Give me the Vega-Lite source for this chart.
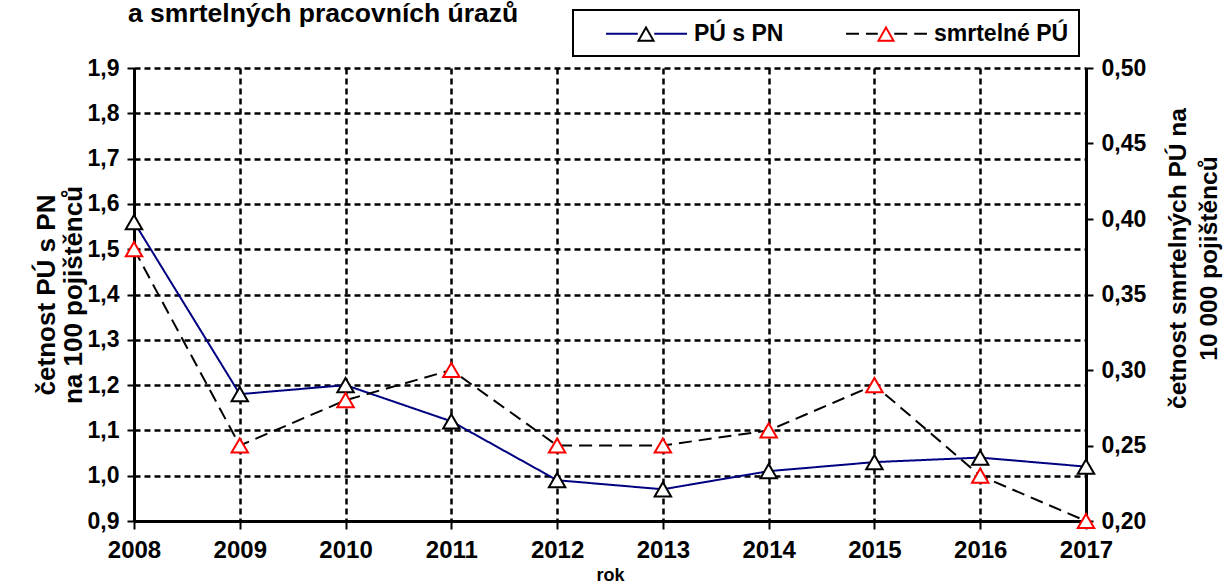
{
  "$schema": "https://vega.github.io/schema/vega-lite/v6.json",
  "width": 952,
  "height": 453,
  "autosize": "none",
  "padding": {"left": 134, "top": 68, "right": 138, "bottom": 65},
  "background": "white",
  "config": {
    "font": "Liberation Sans",
    "view": {"stroke": null},
    "axis": {
      "labelFont": "Liberation Sans",
      "titleFont": "Liberation Sans",
      "labelFontWeight": "bold",
      "titleFontWeight": "bold",
      "labelColor": "black",
      "titleColor": "black",
      "domainColor": "black",
      "tickColor": "black",
      "gridColor": "black",
      "gridOpacity": 1
    },
    "legend": {"labelFont": "Liberation Sans"}
  },
  "title": {
    "text": "a smrtelných pracovních úrazů",
    "anchor": "start",
    "frame": "group",
    "fontSize": 26.5,
    "fontWeight": "bold",
    "color": "black",
    "baseline": "alphabetic",
    "offset": 0,
    "dy": 39,
    "dx": -6
  },
  "data": {
    "values": [
      {"rok": 2008, "PÚ s PN": 1.56, "smrtelné PÚ": 0.38},
      {"rok": 2009, "PÚ s PN": 1.18, "smrtelné PÚ": 0.25},
      {"rok": 2010, "PÚ s PN": 1.20, "smrtelné PÚ": 0.28},
      {"rok": 2011, "PÚ s PN": 1.12, "smrtelné PÚ": 0.30},
      {"rok": 2012, "PÚ s PN": 0.99, "smrtelné PÚ": 0.25},
      {"rok": 2013, "PÚ s PN": 0.97, "smrtelné PÚ": 0.25},
      {"rok": 2014, "PÚ s PN": 1.01, "smrtelné PÚ": 0.26},
      {"rok": 2015, "PÚ s PN": 1.03, "smrtelné PÚ": 0.29},
      {"rok": 2016, "PÚ s PN": 1.04, "smrtelné PÚ": 0.23},
      {"rok": 2017, "PÚ s PN": 1.02, "smrtelné PÚ": 0.20}
    ]
  },
  "layer": [
    {
      "layer": [
        {
          "transform": [{"fold": ["PÚ s PN"], "as": ["serie", "hodnota"]}],
          "mark": {"type": "line", "strokeWidth": 2},
          "encoding": {
            "x": {
              "field": "rok", "type": "quantitative",
              "scale": {"domain": [2008, 2017], "nice": false, "zero": false},
              "axis": {
                "values": [2008, 2009, 2010, 2011, 2012, 2013, 2014, 2015, 2016, 2017],
                "format": "d", "title": "rok", "titleFontSize": 18, "labelFontSize": 24,
                "domainWidth": 3, "tickSize": 8, "tickWidth": 2, "labelPadding": 9,
                "titlePadding": 4, "grid": true, "gridDash": [6, 4], "gridWidth": 2.5,
                "labelFlush": false, "labelOverlap": false
              }
            },
            "y": {
              "field": "hodnota", "type": "quantitative",
              "scale": {"domain": [0.9, 1.9], "nice": false, "zero": false},
              "axis": {
                "orient": "left",
                "values": [0.9, 1.0, 1.1, 1.2, 1.3, 1.4, 1.5, 1.6, 1.7, 1.8, 1.9],
                "labelExpr": "replace(format(datum.value, '.1f'), '.', ',')",
                "title": ["četnost PÚ s PN", "na 100 pojištěnců"],
                "titleFontSize": 26, "titleLineHeight": 27, "labelFontSize": 23, "domainWidth": 3,
                "tickSize": 7, "tickWidth": 2, "labelPadding": 8, "titlePadding": 1,
                "grid": true, "gridDash": [6, 4], "gridWidth": 2.5,
                "labelFlush": false, "labelOverlap": false
              }
            },
            "stroke": {
              "field": "serie", "type": "nominal",
              "scale": {"range": ["#000080", "black"]},
              "legend": {
                "title": null, "orient": "none", "legendX": 439, "legendY": -58,
                "direction": "horizontal",
                "symbolType": "M0.76,0H3.3M4.62,0H7.24",
                "symbolSize": 625, "symbolStrokeWidth": 2,
                "labelOffset": 84, "columnPadding": 39, "padding": 10,
                "strokeColor": "black", "fillColor": "white",
                "labelFontSize": 23, "labelFontWeight": "bold", "labelColor": "black",
                "encode": {"legend": {"update": {"strokeWidth": {"value": 2}}}}
              }
            },
            "strokeDash": {
              "field": "serie", "type": "nominal",
              "scale": {"range": [[1, 0], [13, 7]]},
              "legend": {
                "title": null, "orient": "none", "legendX": 439, "legendY": -58,
                "direction": "horizontal",
                "symbolType": "M0.76,0H3.3M4.62,0H7.24",
                "symbolSize": 625, "symbolStrokeWidth": 2,
                "labelOffset": 84, "columnPadding": 39, "padding": 10,
                "strokeColor": "black", "fillColor": "white",
                "labelFontSize": 23, "labelFontWeight": "bold", "labelColor": "black",
                "encode": {"legend": {"update": {"strokeWidth": {"value": 2}}}}
              }
            }
          }
        },
        {
          "transform": [{"fold": ["PÚ s PN"], "as": ["serie_b", "hodnota"]}],
          "mark": {"type": "point", "shape": "triangle-up", "size": 270, "filled": false, "fill": "white", "strokeWidth": 2, "opacity": 1, "clip": false},
          "encoding": {
            "x": {"field": "rok", "type": "quantitative", "scale": {"domain": [2008, 2017], "nice": false, "zero": false}},
            "y": {"field": "hodnota", "type": "quantitative", "scale": {"domain": [0.9, 1.9], "nice": false, "zero": false}},
            "color": {
              "field": "serie_b", "type": "nominal",
              "scale": {"range": ["black", "red"]},
              "legend": {
                "title": null, "orient": "none", "legendX": 439, "legendY": -58,
                "direction": "horizontal",
                "symbolType": "M3.36,0.55L3.96,-0.5L4.56,0.55Z",
                "symbolSize": 625, "symbolStrokeWidth": 2,
                "labelOffset": 84, "columnPadding": 39, "padding": 10,
                "labelFontSize": 23, "labelFontWeight": "bold", "labelOpacity": 0,
                "encode": {"symbols": {"update": {"fill": {"value": "white"}, "opacity": {"value": 1}}}}
              }
            }
          }
        }
      ]
    },
    {
      "layer": [
        {
          "transform": [{"fold": ["smrtelné PÚ"], "as": ["serie", "hodnota"]}],
          "mark": {"type": "line", "strokeWidth": 2},
          "encoding": {
            "x": {"field": "rok", "type": "quantitative", "scale": {"domain": [2008, 2017], "nice": false, "zero": false}},
            "y": {
              "field": "hodnota", "type": "quantitative",
              "scale": {"domain": [0.2, 0.5], "nice": false, "zero": false},
              "axis": {
                "orient": "right",
                "values": [0.2, 0.25, 0.3, 0.35, 0.4, 0.45, 0.5],
                "labelExpr": "replace(format(datum.value, '.2f'), '.', ',')",
                "title": ["četnost smrtelných PÚ na", "10 000 pojištěnců"],
                "titleAngle": 270, "titleY": 190, "titleAlign": "center",
                "titleFontSize": 24.5, "titleLineHeight": 31, "labelFontSize": 23, "domainWidth": 3,
                "tickSize": 7, "tickWidth": 2, "labelPadding": 8, "titlePadding": 14,
                "grid": false, "labelFlush": false, "labelOverlap": false
              }
            },
            "stroke": {"field": "serie", "type": "nominal"},
            "strokeDash": {"field": "serie", "type": "nominal"}
          }
        },
        {
          "transform": [{"fold": ["smrtelné PÚ"], "as": ["serie_b", "hodnota"]}],
          "mark": {"type": "point", "shape": "triangle-up", "size": 270, "filled": false, "fill": "white", "strokeWidth": 2, "opacity": 1, "clip": false},
          "encoding": {
            "x": {"field": "rok", "type": "quantitative", "scale": {"domain": [2008, 2017], "nice": false, "zero": false}},
            "y": {"field": "hodnota", "type": "quantitative", "scale": {"domain": [0.2, 0.5], "nice": false, "zero": false}},
            "color": {"field": "serie_b", "type": "nominal"}
          }
        }
      ]
    }
  ],
  "resolve": {"scale": {"y": "independent"}}
}
